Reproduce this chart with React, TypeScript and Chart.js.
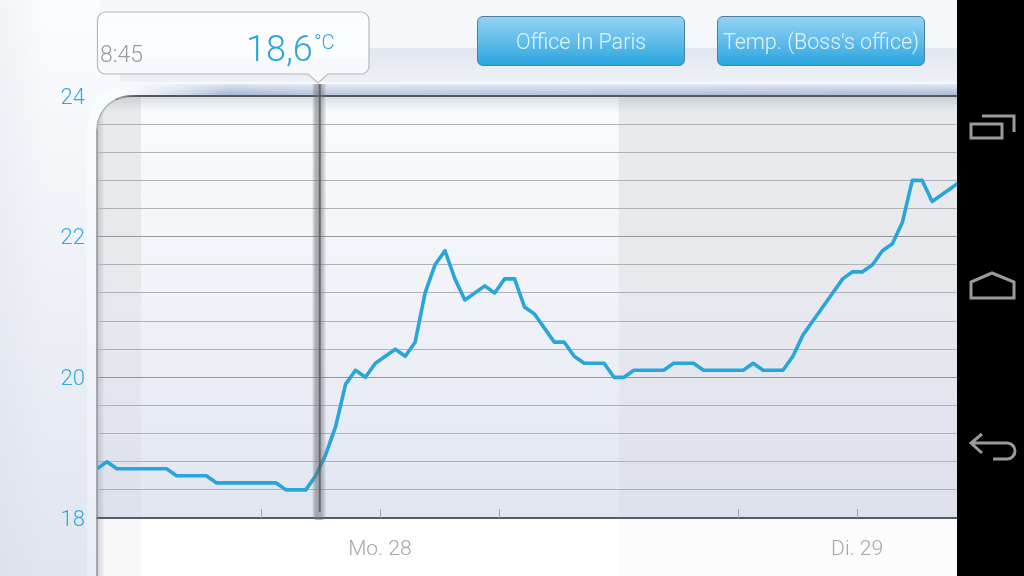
import React, { useEffect, useRef } from "react";
import { Chart, registerables } from "chart.js";

Chart.register(...registerables);

const temperatures = [
  18.7, 18.8, 18.7, 18.7, 18.7, 18.7, 18.7, 18.7, 18.6, 18.6, 18.6, 18.6,
  18.5, 18.5, 18.5, 18.5, 18.5, 18.5, 18.5, 18.4, 18.4, 18.4, 18.6, 18.9,
  19.3, 19.9, 20.1, 20.0, 20.2, 20.3, 20.4, 20.3, 20.5, 21.2, 21.6, 21.8,
  21.4, 21.1, 21.2, 21.3, 21.2, 21.4, 21.4, 21.0, 20.9, 20.7, 20.5, 20.5,
  20.3, 20.2, 20.2, 20.2, 20.0, 20.0, 20.1, 20.1, 20.1, 20.1, 20.2, 20.2,
  20.2, 20.1, 20.1, 20.1, 20.1, 20.1, 20.2, 20.1, 20.1, 20.1, 20.3, 20.6,
  20.8, 21.0, 21.2, 21.4, 21.5, 21.5, 21.6, 21.8, 21.9, 22.2, 22.8, 22.8,
  22.5, 22.6, 22.7, 22.8,
];
const yTicks = [18, 18.4, 18.8, 19.2, 19.6, 20, 20.4, 20.8, 21.2, 21.6, 22, 22.4, 22.8, 23.2, 23.6, 24];
const yLabelled = [18, 20, 22, 24];
const xTicks = [16.45, 28.45, 40.45, 64.45, 76.45];
const xTickLabels = ["", "Mo. 28", "", "", "Di. 29"];
const xRange = [0, 86.5];
const nightEnd = 4.43;
const nightStart = 52.45;
const selectedX = 22.4;
const selectedTime = "8:45";
const selectedValue = "18,6";
const buttonLabels = ["Office In Paris", "Temp. (Boss's office)"];

const FONT = "Roboto, 'Liberation Sans', sans-serif";
const R = 34;

const backdrop = {
  id: "backdrop",
  beforeDraw(chart: any) {
    const { ctx, chartArea: a, scales } = chart;
    const W = chart.width;
    const H = chart.height;
    ctx.save();
    // page
    let g = ctx.createLinearGradient(0, 0, 0, H);
    g.addColorStop(0, "#fbfcfd");
    g.addColorStop(0.3, "#f3f5f9");
    g.addColorStop(1, "#e0e5ef");
    ctx.fillStyle = g;
    ctx.fillRect(0, 0, W, H);
    g = ctx.createLinearGradient(0, 0, 46, 0);
    g.addColorStop(0, "rgba(205,212,224,0.2)");
    g.addColorStop(1, "rgba(205,212,224,0)");
    ctx.fillStyle = g;
    ctx.fillRect(0, 0, 46, H);
    // header band
    ctx.fillStyle = "#f6f7fb";
    ctx.fillRect(100, 0, W - 100, 48);
    g = ctx.createLinearGradient(0, 48, 0, 80);
    g.addColorStop(0, "#e1e6ef");
    g.addColorStop(1, "#edf0f6");
    ctx.fillStyle = g;
    ctx.fillRect(120, 48, W - 120, 34);
    // pale frame with rounded corner
    g = ctx.createLinearGradient(0, 84, 0, H);
    g.addColorStop(0, "#fbfcfe");
    g.addColorStop(1, "#e9edf5");
    ctx.fillStyle = g;
    ctx.beginPath();
    ctx.roundRect(87, 84, W, H, [R + 10, 0, 0, 0]);
    ctx.fill();
    // blue strip above the plot
    g = ctx.createLinearGradient(120, 0, a.right, 0);
    g.addColorStop(0, "rgba(196,207,226,0)");
    g.addColorStop(0.13, "rgba(168,186,216,1)");
    g.addColorStop(0.25, "rgba(190,202,224,1)");
    g.addColorStop(1, "rgba(176,190,216,1)");
    ctx.fillStyle = g;
    ctx.fillRect(120, 84, W - 120, 12);
    g = ctx.createLinearGradient(0, 84, 0, 94);
    g.addColorStop(0, "rgba(246,248,251,0.7)");
    g.addColorStop(1, "rgba(246,248,251,0)");
    ctx.fillStyle = g;
    ctx.fillRect(100, 84, W - 100, 10);
    // plot
    const x = scales.x;
    const px1 = x.getPixelForValue(nightEnd);
    const px2 = x.getPixelForValue(nightStart);
    ctx.beginPath();
    ctx.rect(a.left, a.top, a.width, H - a.top);
    ctx.clip();
    ctx.beginPath();
    ctx.roundRect(a.left, a.top, W, H, [R, 0, 0, 0]);
    ctx.clip();
    const day = ctx.createLinearGradient(0, a.top, 0, a.bottom);
    day.addColorStop(0, "#fafbfd");
    day.addColorStop(0.45, "#f1f3f8");
    day.addColorStop(1, "#e0e5f0");
    const night = ctx.createLinearGradient(0, a.top, 0, a.bottom);
    night.addColorStop(0, "#e9eaed");
    night.addColorStop(0.5, "#e7e9ee");
    night.addColorStop(1, "#dde1ec");
    ctx.fillStyle = night;
    ctx.fillRect(a.left, a.top, px1 - a.left, a.height);
    ctx.fillRect(px2, a.top, a.right - px2, a.height);
    ctx.fillStyle = day;
    ctx.fillRect(px1, a.top, px2 - px1, a.height);
    // below the axis
    ctx.fillStyle = "#ffffff";
    ctx.fillRect(a.left, a.bottom, a.width, H - a.bottom);
    ctx.fillStyle = "#f8f8f9";
    ctx.fillRect(a.left, a.bottom, px1 - a.left, H - a.bottom);
    ctx.fillStyle = "#fcfcfc";
    ctx.fillRect(px2, a.bottom, a.right - px2, H - a.bottom);
    // inner shadows
    g = ctx.createLinearGradient(0, a.top, 0, a.top + 16);
    g.addColorStop(0, "rgba(90,95,105,0.2)");
    g.addColorStop(1, "rgba(90,95,105,0)");
    ctx.fillStyle = g;
    ctx.fillRect(a.left, a.top, a.width, 16);
    g = ctx.createLinearGradient(a.left, 0, a.left + 8, 0);
    g.addColorStop(0, "rgba(90,95,105,0.25)");
    g.addColorStop(1, "rgba(90,95,105,0)");
    ctx.fillStyle = g;
    ctx.fillRect(a.left, a.top, 8, H - a.top);
    ctx.restore();
  },
  afterDatasetsDraw(chart: any) {
    const { ctx, chartArea: a, scales } = chart;
    const H = chart.height;
    ctx.save();
    // short inner ticks on the time axis
    ctx.strokeStyle = "#a2a6b0";
    ctx.lineWidth = 1;
    scales.x.ticks.forEach((t: any) => {
      const px = Math.round(scales.x.getPixelForValue(t.value)) + 0.5;
      ctx.beginPath();
      ctx.moveTo(px, a.bottom - 9);
      ctx.lineTo(px, a.bottom);
      ctx.stroke();
    });
    // frame: corner, top and left
    const fg = ctx.createLinearGradient(0, 84, 0, H);
    fg.addColorStop(0, "#fbfcfe");
    fg.addColorStop(1, "#e9edf5");
    ctx.fillStyle = fg;
    ctx.beginPath();
    ctx.moveTo(a.left - 1, a.top - 1);
    ctx.lineTo(a.left + R, a.top - 1);
    ctx.arc(a.left + R, a.top + R, R, -Math.PI / 2, Math.PI, true);
    ctx.closePath();
    ctx.fill();
    ctx.strokeStyle = "#8f9298";
    ctx.lineWidth = 1.5;
    ctx.beginPath();
    ctx.moveTo(a.left, H);
    ctx.lineTo(a.left, a.top + R);
    ctx.stroke();
    ctx.strokeStyle = "#a9acb2";
    ctx.lineWidth = 1.5;
    ctx.beginPath();
    ctx.arc(a.left + R, a.top + R, R, Math.PI, -Math.PI * 0.62);
    ctx.stroke();
    const tg = ctx.createLinearGradient(a.left + 14, 0, a.left + 42, 0);
    tg.addColorStop(0, "rgba(85,88,93,0.3)");
    tg.addColorStop(1, "rgba(85,88,93,1)");
    ctx.strokeStyle = tg;
    ctx.lineWidth = 2;
    ctx.beginPath();
    ctx.arc(a.left + R, a.top + R, R, -Math.PI * 0.65, -Math.PI / 2);
    ctx.lineTo(a.right, a.top);
    ctx.stroke();
    // selected time marker
    const mx = scales.x.getPixelForValue(selectedX);
    const g = ctx.createLinearGradient(mx - 7, 0, mx + 6, 0);
    g.addColorStop(0, "rgba(110,112,118,0.2)");
    g.addColorStop(0.25, "rgba(110,112,118,0.55)");
    g.addColorStop(0.65, "rgba(110,112,118,0.5)");
    g.addColorStop(1, "rgba(110,112,118,0.12)");
    ctx.fillStyle = g;
    ctx.beginPath();
    ctx.roundRect(mx - 7, a.top - 12, 13, a.height + 14, [0, 0, 4, 4]);
    ctx.fill();
    ctx.fillStyle = "rgba(85,88,94,0.8)";
    ctx.fillRect(mx - 1, a.top - 12, 2, a.height + 6);
    ctx.restore();
  },
};

export default function App() {
  const ref = useRef<HTMLCanvasElement>(null);

  useEffect(() => {
    const chart = new Chart(ref.current!, {
      type: "line",
      data: {
        datasets: [
          {
            data: temperatures.map((v, i) => ({ x: i, y: v })),
            borderColor: "#2aa5da",
            borderWidth: 3.6,
            pointRadius: 0,
            tension: 0,
            borderJoinStyle: "round",
          },
        ],
      },
      options: {
        responsive: false,
        animation: false,
        events: [],
        layout: { padding: { top: 96, right: 67, bottom: 0, left: 0 } },
        plugins: { legend: { display: false }, tooltip: { enabled: false } },
        scales: {
          x: {
            type: "linear",
            min: xRange[0],
            max: xRange[1],
            afterBuildTicks(scale: any) {
              scale.ticks = xTicks.map((value) => ({ value }));
            },
            afterFit(scale: any) {
              scale.height = 58;
            },
            grid: { display: false },
            border: { display: true, color: "#525b66", width: 2 },
            ticks: {
              autoSkip: false,
              maxRotation: 0,
              padding: 11,
              color: "#a6a6a8",
              font: { family: FONT, size: 21, weight: "300" },
              callback: (_v: any, i: number) => xTickLabels[i],
            },
          },
          y: {
            type: "linear",
            min: 18,
            max: 24,
            afterBuildTicks(scale: any) {
              scale.ticks = yTicks.map((value) => ({ value }));
            },
            afterFit(scale: any) {
              scale.width = 97;
            },
            border: { display: false },
            grid: {
              drawTicks: false,
              lineWidth: 1,
              color: (c: any) =>
                yLabelled.includes(c.tick?.value) ? "#94969c" : "#b0b2b8",
            },
            ticks: {
              autoSkip: false,
              padding: 12,
              labelOffset: 2,
              color: "#34a8dc",
              font: { family: FONT, size: 22, weight: "300" },
              callback: (v: any) => (yLabelled.includes(v) ? String(v) : ""),
            },
          },
        },
      },
      plugins: [backdrop],
    } as any);
    return () => chart.destroy();
  }, []);

  const button = (left: number, label: string) => (
    <div
      key={label}
      style={{
        position: "absolute",
        left,
        top: 16,
        width: 206,
        height: 48,
        borderRadius: 6,
        border: "1px solid #4d7f9f",
        background: "linear-gradient(#92d2f3, #62bdea 50%, #29a5e0)",
        color: "#e4f4fb",
        font: `300 21.5px ${FONT}`,
        lineHeight: "50px",
        textAlign: "center",
        whiteSpace: "nowrap",
      }}
    >
      {label}
    </div>
  );

  return (
    <div
      style={{
        position: "absolute",
        left: 0,
        top: 0,
        width: 1024,
        height: 576,
        overflow: "hidden",
        background: "#000",
      }}
    >
      <canvas
        ref={ref}
        width={1024}
        height={576}
        style={{ position: "absolute", left: 0, top: 0, width: 1024, height: 576 }}
      />
      <svg
        width={1024}
        height={576}
        style={{ position: "absolute", left: 0, top: 0 }}
      >
        <defs>
          <linearGradient id="call" x1="0" y1="0" x2="0" y2="1">
            <stop offset="0" stopColor="#fbfcfe" />
            <stop offset="0.65" stopColor="#fcfdfe" />
            <stop offset="0.66" stopColor="#f7f8fb" />
            <stop offset="1" stopColor="#f8f9fc" />
          </linearGradient>
        </defs>
        <path
          d="M105.5 12 H361 a8 8 0 0 1 8 8 V66 a8 8 0 0 1 -8 8 H328 L318 83 L308 74 H105.5 a8 8 0 0 1 -8 -8 V20 a8 8 0 0 1 8 -8 Z"
          fill="url(#call)"
          stroke="#b4b9c2"
          strokeWidth={1.2}
        />
        <rect x={957} y={0} width={67} height={576} fill="#000" />
        <g fill="none" stroke="#9a9a9a" strokeWidth={3}>
          <rect x={971} y={124} width={31} height={14} />
          <path d="M982 116 H1014 V132" />
          <path d="M971 298 V282 L992 273 L1014 282 V298 Z" />
          <path d="M982 434 L971 443 L982 453 M971 443 H1007 a8 8 0 0 1 0 16 H993" />
        </g>
      </svg>
      <div
        style={{
          position: "absolute",
          left: 100,
          top: 41,
          color: "#9a9b9e",
          font: `300 23px ${FONT}`,
        }}
      >
        {selectedTime}
      </div>
      <div
        style={{
          position: "absolute",
          left: 246,
          top: 28,
          color: "#2aa5da",
          font: `300 36px ${FONT}`,
        }}
      >
        {selectedValue}
      </div>
      <div
        style={{
          position: "absolute",
          left: 314,
          top: 30,
          color: "#2aa5da",
          font: `300 20px ${FONT}`,
        }}
      >
        °C
      </div>
      {button(477, buttonLabels[0])}
      {button(717, buttonLabels[1])}
    </div>
  );
}
